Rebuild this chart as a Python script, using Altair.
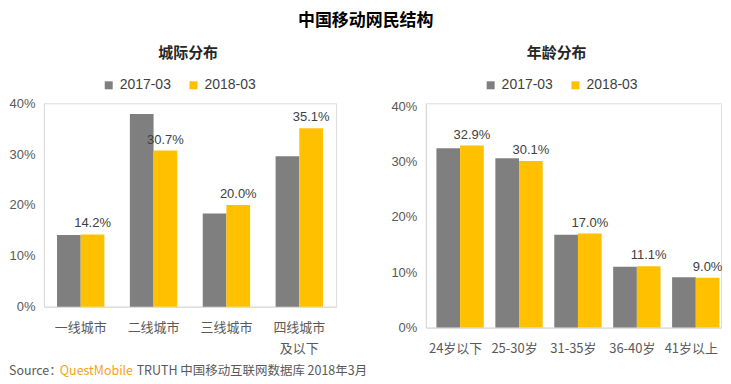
import altair as alt
import pandas as pd

# ---- data ----
series = ["2017-03", "2018-03"]
colors = ["#7F7F7F", "#FFC000"]

cities = ["一线城市", "二线城市", "三线城市", "四线城市\n及以下"]
city_2017 = [14.1, 37.9, 18.3, 29.6]
city_2018 = [14.2, 30.7, 20.0, 35.1]

ages = ["24岁以下", "25-30岁", "31-35岁", "36-40岁", "41岁以上"]
age_2017 = [32.4, 30.6, 16.8, 11.0, 9.1]
age_2018 = [32.9, 30.1, 17.0, 11.1, 9.0]

y_ticks = [0, 0.1, 0.2, 0.3, 0.4]

main_title = "中国移动网民结构"
source_parts = ["Source：", "QuestMobile", "TRUTH 中国移动互联网数据库 2018年3月"]

FONT = "Liberation Sans, Noto Sans CJK SC, sans-serif"
CJK = "Noto Sans CJK SC, Liberation Sans, sans-serif"


def panel(cats, v17, v18, title, w, h, ymax, extra=None):
    n = len(cats)
    df = pd.DataFrame({
        "cat": cats * 2,
        "series": [series[0]] * n + [series[1]] * n,
        "value": [v / 100 for v in v17 + v18],
    })
    x = alt.X("cat:N", sort=cats,
              scale=alt.Scale(paddingInner=0.35, paddingOuter=0.18),
              axis=alt.Axis(title=None, labelAngle=0, ticks=False,
                            domainColor="#D9D9D9", labelColor="#595959",
                            labelFontSize=13, labelPadding=15, labelLineHeight=21,
                            labelFont=CJK,
                            labelExpr="split(datum.label, '\\n')"))
    xo = alt.XOffset("series:N", sort=series, scale=alt.Scale(domain=series))
    y = alt.Y("value:Q", scale=alt.Scale(domain=[0, ymax], nice=False),
              axis=alt.Axis(title=None, format=".0%", values=y_ticks, grid=False,
                            ticks=False, domainColor="#D9D9D9", labelColor="#595959",
                            labelFontSize=13, labelPadding=9, labelFont=FONT))
    base = alt.Chart(df)
    bars = base.mark_bar().encode(
        x=x, xOffset=xo, y=y,
        color=alt.Color("series:N", sort=series,
                        scale=alt.Scale(domain=series, range=colors),
                        legend=alt.Legend(orient="none", legendX=58, legendY=-25,
                                          direction="horizontal", title=None,
                                          symbolType="square", symbolSize=64,
                                          symbolStrokeWidth=0,
                                          labelFontSize=14, labelColor="#404040",
                                          labelFont=FONT,
                                          columnPadding=15, labelOffset=4, padding=0)),
    )
    labels = base.transform_filter(alt.datum.series == series[1]).mark_text(
        baseline="bottom", dy=-4, fontSize=13, color="#404040", font=FONT
    ).encode(x=x, xOffset=xo, y=y, text=alt.Text("value:Q", format=".1%"))
    layers = [bars, labels] + (extra or [])
    return alt.layer(*layers).properties(
        width=w, height=h,
        title=alt.TitleParams(title, fontSize=15, fontWeight="bold", anchor="middle",
                              frame="bounds", font=CJK, color="#262626", offset=17),
    )


# source line, placed below the left panel
src_x = [-35, 16, 93]
src_colors = ["#595959", "#F5A21B", "#595959"]
src_layers = []
for part, px, col in zip(source_parts, src_x, src_colors):
    src_layers.append(
        alt.Chart(pd.DataFrame({"t": [part]})).mark_text(
            align="left", baseline="middle", fontSize=12.5, color=col, font=CJK
        ).encode(x=alt.value(px), y=alt.value(269), text="t:N")
    )

left = panel(cities, city_2017, city_2018, "城际分布", 293, 204, 0.4, src_layers)
right = panel(ages, age_2017, age_2018, "年龄分布", 296, 225, 0.4054)

chart = alt.hconcat(left, right, spacing=90, bounds="flush").resolve_scale(
    color="independent"
).properties(
    title=alt.TitleParams(main_title, fontSize=17, fontWeight="bold", anchor="middle",
                          font=CJK, color="#000000", offset=16),
    padding={"left": 0, "top": 3, "right": 0, "bottom": 0},
).configure_view(stroke=None).configure(background="white")

chart.save("out.html", embed_options={"renderer": "svg", "actions": False})
